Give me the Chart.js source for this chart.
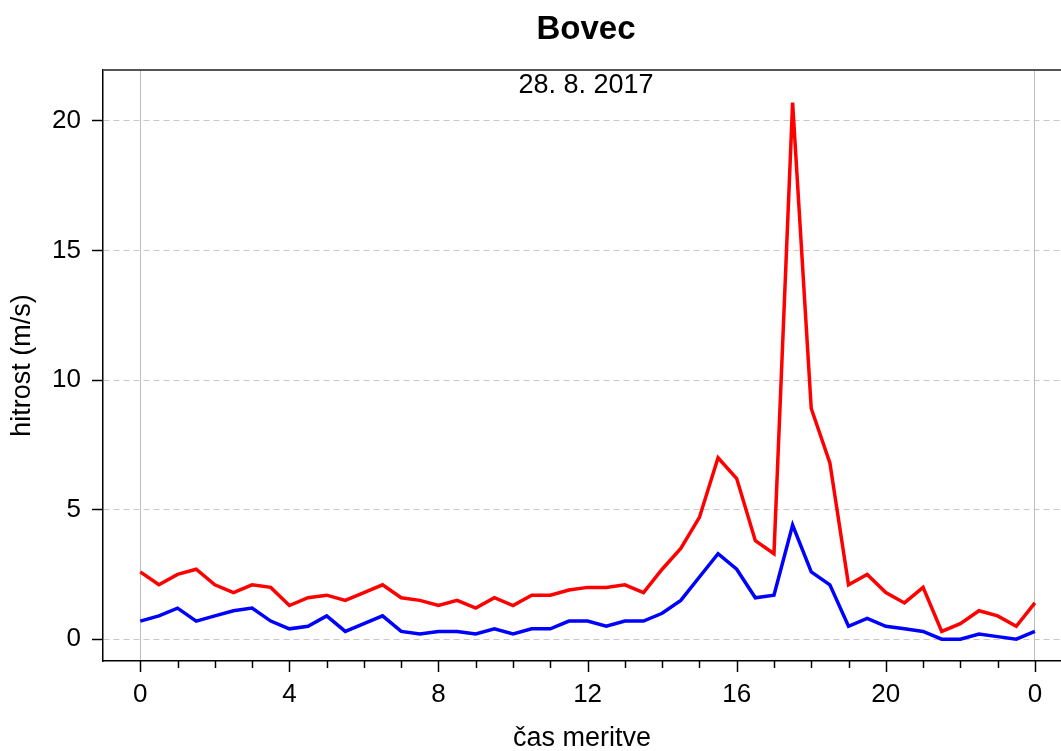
<!DOCTYPE html>
<html>
<head>
<meta charset="utf-8">
<script src="https://cdn.jsdelivr.net/npm/chart.js@4"></script>
<style>
  body { margin: 0; background: #fff; }
  #wrap { width: 1061px; height: 751px; }
</style>
</head>
<body>
<div id="wrap"><canvas id="chart" width="1061" height="751"></canvas></div>
<script>
// measurement time (hours), every half hour
const hours = [0, 0.5, 1, 1.5, 2, 2.5, 3, 3.5, 4, 4.5, 5, 5.5, 6, 6.5, 7, 7.5, 8, 8.5, 9, 9.5,
  10, 10.5, 11, 11.5, 12, 12.5, 13, 13.5, 14, 14.5, 15, 15.5, 16, 16.5, 17, 17.5, 18, 18.5, 19, 19.5,
  20, 20.5, 21, 21.5, 22, 22.5, 23, 23.5, 24];
// wind gusts (red)
const gusts = [2.6, 2.1, 2.5, 2.7, 2.1, 1.8, 2.1, 2.0, 1.3, 1.6, 1.7, 1.5, 1.8, 2.1, 1.6, 1.5,
  1.3, 1.5, 1.2, 1.6, 1.3, 1.7, 1.7, 1.9, 2.0, 2.0, 2.1, 1.8, 2.7, 3.5, 4.7, 7.0,
  6.2, 3.8, 3.3, 20.7, 8.9, 6.8, 2.1, 2.5, 1.8, 1.4, 2.0, 0.3, 0.6, 1.1, 0.9, 0.5, 1.4];
// mean wind speed (blue)
const speed = [0.7, 0.9, 1.2, 0.7, 0.9, 1.1, 1.2, 0.7, 0.4, 0.5, 0.9, 0.3, 0.6, 0.9, 0.3, 0.2,
  0.3, 0.3, 0.2, 0.4, 0.2, 0.4, 0.4, 0.7, 0.7, 0.5, 0.7, 0.7, 1.0, 1.5, 2.4, 3.3,
  2.7, 1.6, 1.7, 4.4, 2.6, 2.1, 0.5, 0.8, 0.5, 0.4, 0.3, 0.0, 0.0, 0.2, 0.1, 0.0, 0.3];
const yTicks = [0, 5, 10, 15, 20];
const xMajor = [0, 4, 8, 12, 16, 20, 24];

const FONT = '"Liberation Sans", Arial, sans-serif';

const frame = {
  id: 'frame',
  afterDraw(chart) {
    const { ctx, chartArea: a } = chart;
    const xs = chart.scales.x;
    ctx.save();
    // top border
    ctx.strokeStyle = '#555';
    ctx.lineWidth = 2;
    ctx.beginPath();
    ctx.moveTo(a.left, a.top);
    ctx.lineTo(a.right, a.top);
    ctx.stroke();
    // hour ticks under the x axis
    ctx.strokeStyle = '#000';
    ctx.lineWidth = 1.5;
    for (let h = 0; h <= 24; h++) {
      const x = Math.round(xs.getPixelForValue(h)) + 0.5;
      const len = xMajor.includes(h) ? 11 : 7;
      ctx.beginPath();
      ctx.moveTo(x, a.bottom);
      ctx.lineTo(x, a.bottom + len);
      ctx.stroke();
    }
    // titles
    const cx = (a.left + a.right) / 2 + 4;
    ctx.fillStyle = '#000';
    ctx.textAlign = 'center';
    ctx.textBaseline = 'alphabetic';
    ctx.font = 'bold 33px ' + FONT;
    ctx.fillText('Bovec', cx, 38.5);
    ctx.font = '27px ' + FONT;
    ctx.fillText('28. 8. 2017', cx, 93);
    ctx.restore();
  }
};

new Chart(document.getElementById('chart'), {
  type: 'line',
  data: {
    datasets: [
      {
        label: 'povprečna hitrost',
        data: hours.map((h, i) => ({ x: h, y: speed[i] })),
        borderColor: '#0000ff',
        borderWidth: 3.5,
        pointRadius: 0,
        tension: 0
      },
      {
        label: 'sunki',
        data: hours.map((h, i) => ({ x: h, y: gusts[i] })),
        borderColor: '#ff0000',
        borderWidth: 3.5,
        pointRadius: 0,
        tension: 0
      }
    ]
  },
  options: {
    responsive: false,
    animation: false,
    layout: { padding: { top: 70, left: 0, right: 0, bottom: 0 } },
    plugins: {
      legend: { display: false },
      tooltip: { enabled: false }
    },
    scales: {
      x: {
        type: 'linear',
        min: -1,
        max: 24.7,
        afterBuildTicks: s => { s.ticks = hours.filter(h => Number.isInteger(h)).map(h => ({ value: h })); },
        afterFit: s => { s.height = 90; },
        ticks: {
          autoSkip: false,
          maxRotation: 0,
          padding: 18,
          color: '#000',
          font: { family: FONT, size: 26 },
          callback: v => (xMajor.includes(v) ? String(v % 24) : '')
        },
        grid: {
          drawTicks: false,
          lineWidth: 1,
          color: c => (c.tick && (c.tick.value === 0 || c.tick.value === 24) ? '#bdbdbd' : 'rgba(0,0,0,0)')
        },
        border: { color: '#000', width: 1.5 },
        title: {
          display: true,
          text: 'čas meritve',
          color: '#000',
          font: { family: FONT, size: 27, lineHeight: 1 },
          padding: { top: 0, bottom: -1 }
        }
      },
      y: {
        min: -0.84,
        max: 21.96,
        afterBuildTicks: s => { s.ticks = yTicks.map(v => ({ value: v })); },
        afterFit: s => { s.width = 103; },
        ticks: {
          padding: 11,
          color: '#000',
          font: { family: FONT, size: 26 }
        },
        grid: {
          color: '#c8c8c8',
          lineWidth: 1,
          tickLength: 11,
          tickColor: '#000',
          tickWidth: 1.5
        },
        border: { color: '#000', width: 1.5, dash: [6, 4] },
        title: {
          display: true,
          text: 'hitrost (m/s)',
          color: '#000',
          font: { family: FONT, size: 27, lineHeight: 1 },
          padding: { top: 9, bottom: 0 }
        }
      }
    }
  },
  plugins: [frame]
});
</script>
</body>
</html>
